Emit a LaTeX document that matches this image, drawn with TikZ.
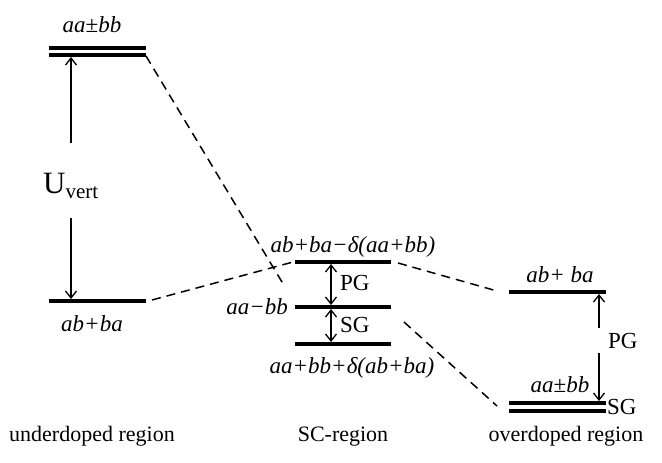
\documentclass[tikz,border=0pt]{standalone}
\usepackage{fontspec}
\setmainfont{Liberation Serif}
\usetikzlibrary{arrows.meta}
\begin{document}
\begin{tikzpicture}[x=1pt,y=-1pt,
  level/.style={line width=3.5pt},
  link/.style={line width=1.5pt, dash pattern=on 9pt off 6pt},
  gaparrow/.style={line width=1.3pt, -{Straight Barb[length=7pt,width=11pt]}},
  gapboth/.style={line width=1.3pt, {Straight Barb[length=7pt,width=11pt]}-{Straight Barb[length=7pt,width=11pt]}},
  lbl/.style={font=\fontsize{23}{26}\selectfont\itshape, inner sep=0pt, anchor=base},
  rlbl/.style={font=\fontsize{23}{26}\selectfont, inner sep=0pt, anchor=base},
  region/.style={font=\fontsize{22}{25}\selectfont, inner sep=0pt, anchor=base}]
\useasboundingbox (0,0) rectangle (662,463);
% level end points
\coordinate (LT1a) at (49,48);  \coordinate (LT1b) at (146,48);
\coordinate (LT2a) at (49,55);  \coordinate (LT2b) at (146,55);
\coordinate (LBa) at (49,301);  \coordinate (LBb) at (146,301);
\coordinate (M1a) at (295,262); \coordinate (M1b) at (391,262);
\coordinate (M2a) at (295,307); \coordinate (M2b) at (391,307);
\coordinate (M3a) at (295,344); \coordinate (M3b) at (391,344);
\coordinate (RTa) at (509,292); \coordinate (RTb) at (606,292);
\coordinate (RB1a) at (509,403); \coordinate (RB1b) at (606,403);
\coordinate (RB2a) at (509,411); \coordinate (RB2b) at (606,411);
% levels
\foreach \a/\b in {LT1a/LT1b, LT2a/LT2b, LBa/LBb, M1a/M1b, M2a/M2b, M3a/M3b, RTa/RTb, RB1a/RB1b, RB2a/RB2b}
  \draw[level] (\a) -- (\b);
% labels
\node[lbl] (l1) at (92,32) {aa\textup{±}bb};
\node[rlbl, anchor=base west] (u) at (43,193) {\fontsize{31}{34}\selectfont U\fontsize{21}{24}\selectfont\raisebox{-5pt}{vert}};
\node[lbl] (l2) at (92,331) {ab+ba};
\node[lbl] (m1) at (353,252) {ab+ba−δ(aa+bb)};
\node[lbl, anchor=base east] (m2) at (288,314) {aa−bb};
\node[lbl] (m3) at (352,373) {aa+bb+δ(ab+ba)};
\node[rlbl, anchor=base west] (pg1) at (340,290) {PG};
\node[rlbl, anchor=base west] (sg1) at (340,332) {SG};
\node[lbl] (r1) at (560,282) {ab+ ba};
\node[lbl] (r2) at (560,392) {aa\textup{±}bb};
\node[rlbl, anchor=base west] (pg2) at (608,348) {PG};
\node[rlbl, anchor=base west] (sg2) at (607,414) {SG};
\node[region] (t1) at (92,441) {underdoped region};
\node[region] (t2) at (343,441) {SC-region};
\node[region] (t3) at (566,441) {overdoped region};
% arrows
\coordinate (a1s) at (71,143); \coordinate (a1e) at (71,57);
\coordinate (a2s) at (71,218); \coordinate (a2e) at (71,299);
\draw[gaparrow] (a1s) -- (a1e);
\draw[gaparrow] (a2s) -- (a2e);
\coordinate (p1s) at (331,264); \coordinate (p1e) at (331,305);
\coordinate (s1s) at (331,309); \coordinate (s1e) at (331,342);
\draw[gapboth] (p1s) -- (p1e);
\draw[gapboth] (s1s) -- (s1e);
\coordinate (p2s) at (599,328); \coordinate (p2e) at (599,294);
\coordinate (s2s) at (599,353); \coordinate (s2e) at (599,401);
\draw[gaparrow] (p2s) -- (p2e);
\draw[gaparrow] (s2s) -- (s2e);
% dashed correlations
\coordinate (d1s) at (146,56); \coordinate (d1e) at (285,287);
\coordinate (d2s) at (152,300); \coordinate (d2e) at (293,262);
\coordinate (d3s) at (398,263); \coordinate (d3e) at (497,291);
\coordinate (d4s) at (404,322); \coordinate (d4e) at (497,406);
\draw[link] (d1s) -- (d1e);
\draw[link] (d2s) -- (d2e);
\draw[link] (d3s) -- (d3e);
\draw[link] (d4s) -- (d4e);
\end{tikzpicture}
\end{document}
